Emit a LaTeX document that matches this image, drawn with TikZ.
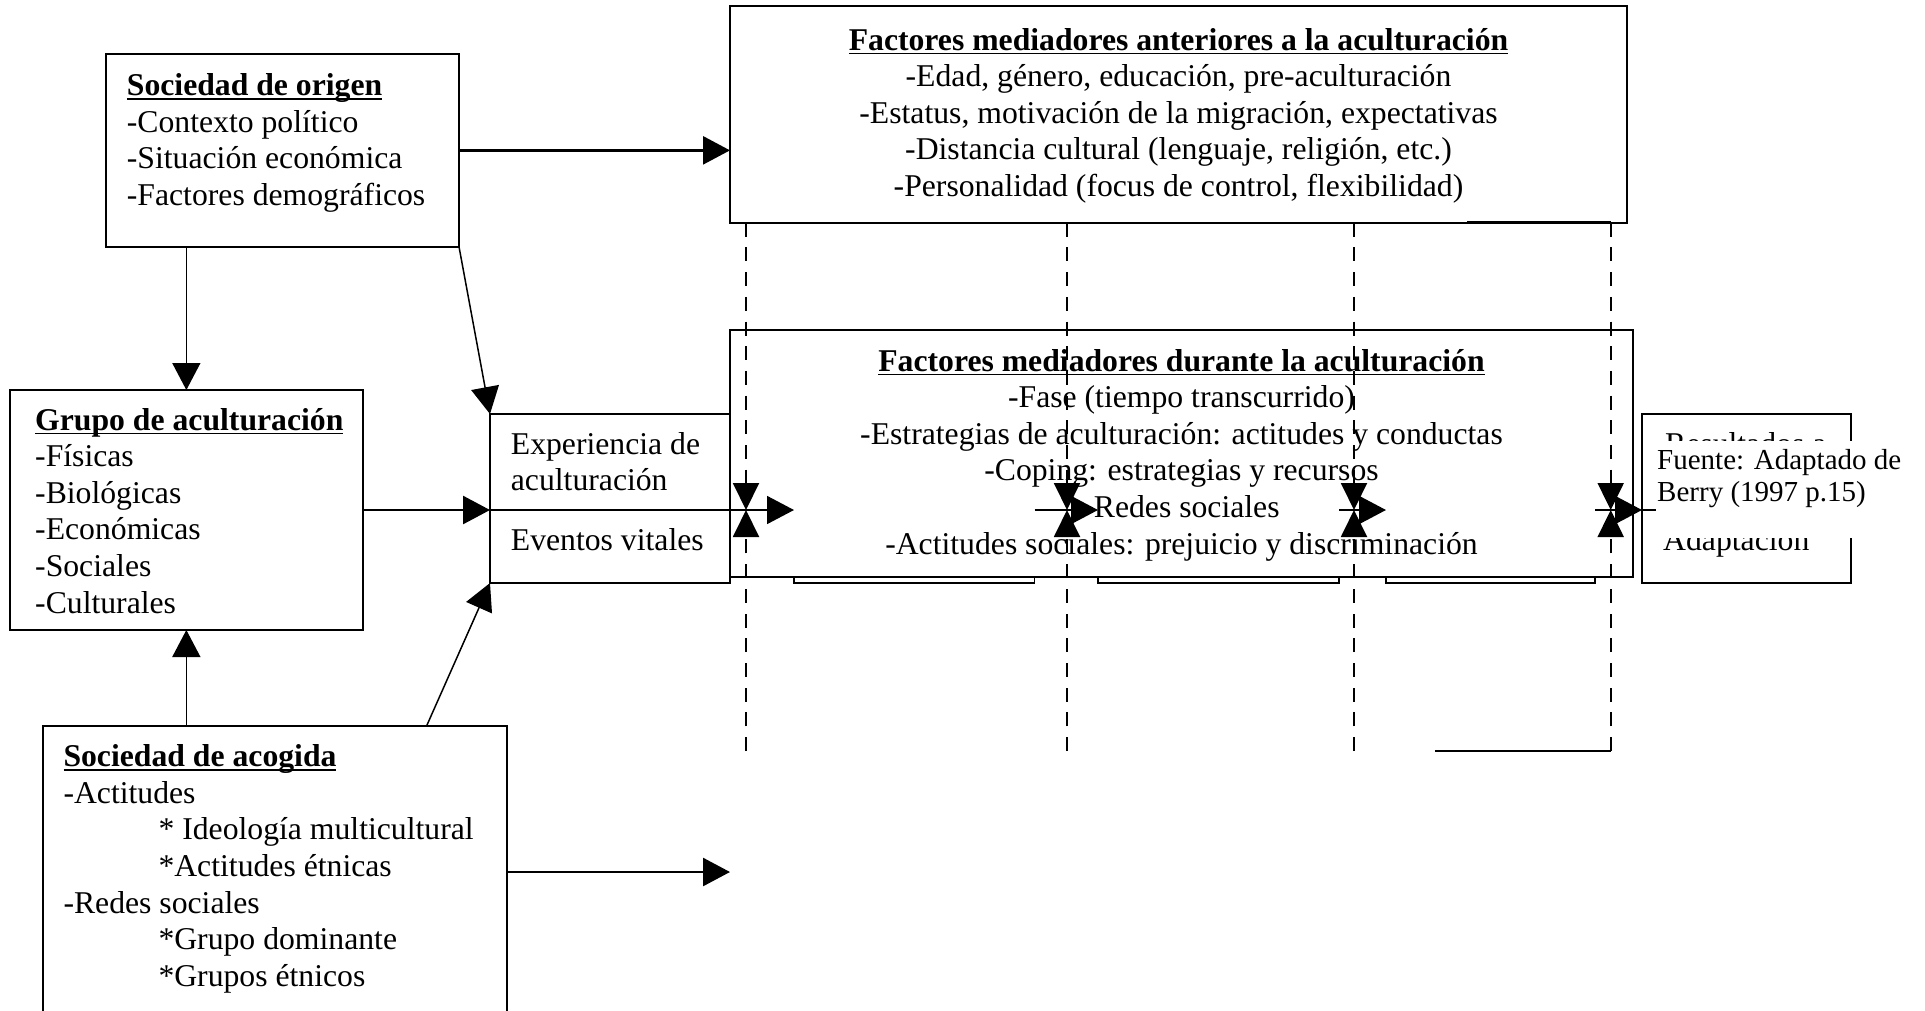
\documentclass[tikz,border=0pt]{standalone}
\usepackage{fontspec}
\setmainfont{Liberation Serif}
\usetikzlibrary{arrows.meta,calc}
\newcommand\mainfs{\fontsize{31.7pt}{36.6pt}\selectfont}
\newcommand\srcfs{\fontsize{29pt}{32.4pt}\selectfont}
\newcommand\ultitle[1]{\leavevmode\setbox0\hbox{\bfseries #1}\rlap{\rule[-4.3pt]{\wd0}{1.6pt}}\box0}
\begin{document}
\begin{tikzpicture}[x=1pt,y=-1pt,
  box/.style={draw, line width=1.7pt, fill=white, inner sep=0pt, outer sep=0pt},
  txt/.style={inner sep=0pt, anchor=base west, font=\mainfs},
  ctxt/.style={inner sep=0pt, anchor=base, font=\mainfs},
  headtri/.style={-{Triangle[length=27pt,width=28pt]}},
  thickarr/.style={headtri, line width=2.7pt},
  thinarr/.style={headtri, line width=1.5pt},
  dasharr/.style={-{Triangle[length=27pt,width=26pt]}, line width=2pt, dash pattern=on 14pt off 10.7pt}]
\useasboundingbox (0,0) rectangle (1925,1010);
\clip (0,0) rectangle (1925,1010);
% boxes
\node[box, minimum width=353.3pt, minimum height=192.7pt] (origen) at (282.35,150.35) {};
\node[box, minimum width=352.7pt, minimum height=240pt] (grupo) at (186.35,510) {};
\node[box, minimum width=464pt, minimum height=314.3pt] (acogida) at (274.7,882.85) {};
\node[box, minimum width=240pt, minimum height=169pt] (exper) at (610,498.5) {};
\node[box, minimum width=897pt, minimum height=216.7pt] (anter) at (1178.5,114.35) {};
\node[box, minimum width=240.5pt, minimum height=169pt] (boxa) at (914.25,498.5) {};
\node[box, minimum width=241pt, minimum height=169pt] (boxb) at (1218.5,498.5) {};
\node[box, minimum width=209pt, minimum height=169pt] (boxc) at (1490.5,498.5) {};
\node[box, minimum width=209pt, minimum height=169pt] (result) at (1746.5,498.5) {};
\node[box, minimum width=903pt, minimum height=247pt] (durante) at (1181.5,453.5) {};
% texts
\node[txt] (torigen) at (126.7,95.7) {\parbox[t]{330pt}{\raggedright\ultitle{Sociedad de origen}\\-Contexto político\\-Situación económica\\-Factores demográficos}};
\node[txt] (tgrupo) at (35,430) {\parbox[t]{330pt}{\raggedright\ultitle{Grupo de aculturación}\\-Físicas\\-Biológicas\\-Económicas\\-Sociales\\-Culturales}};
\node[txt] (tacogida) at (63.3,766.7) {\parbox[t]{440pt}{\raggedright\ultitle{Sociedad de acogida}\\-Actitudes\\\hspace*{95pt}* Ideología multicultural\\\hspace*{95pt}*Actitudes étnicas\\-Redes sociales\\\hspace*{95pt}*Grupo dominante\\\hspace*{95pt}*Grupos étnicos}};
\node[txt] (texper) at (510.7,454) {\parbox[t]{220pt}{\raggedright Experiencia de\\aculturación}};
\node[txt] (teventos) at (510.7,550) {Eventos vitales};
\node[ctxt] (tanter) at (1178.5,50) {\parbox[t]{890pt}{\centering\ultitle{Factores mediadores anteriores a la aculturación}\\-Edad, género, educación, pre-aculturación\\-Estatus, motivación de la migración, expectativas\\-Distancia cultural (lenguaje, religión, etc.)\\-Personalidad (focus de control, flexibilidad)}};
\node[ctxt] (tdurante) at (1181.5,371) {\parbox[t]{896pt}{\centering\ultitle{Factores mediadores durante la aculturación}\\-Fase (tiempo transcurrido)\\-Estrategias de aculturación: actitudes y conductas\\-Coping: estrategias y recursos\\-Redes sociales\\-Actitudes sociales: prejuicio y discriminación}};
\node[txt] (tresult) at (1665,454) {Resultados a};
\node[txt] (tadapt) at (1663,550) {Adaptación};
% source note with white background
\node[fill=white, inner sep=0pt, outer sep=0pt, minimum width=270pt, minimum height=97pt, anchor=north west] (fuentebg) at (1655,441) {};
\node[txt, font=\srcfs] (fuente) at (1657,469.3) {\parbox[t]{265pt}{\raggedright Fuente: Adaptado de\\Berry (1997 p.15)}};
% helper coordinates
\coordinate (divy) at (0,510);
\coordinate (boty) at (0,751);
\coordinate (accend) at (730,872);
\coordinate (d1) at (746,510);
\coordinate (d2) at (1067,510);
\coordinate (d3) at (1354,510);
\coordinate (d4) at (1610.7,510);
% connectors
\draw[thickarr] (origen.east) -- (origen.east -| anter.west);
\draw[thinarr] (grupo.north |- origen.south) -- (grupo.north);
\draw[thinarr] (origen.south east) -- (exper.north west);
\draw[thickarr] (grupo.east) -- (grupo.east -| exper.west);
\draw[thinarr] (grupo.south |- acogida.north) -- (grupo.south);
\draw[thinarr] ($(acogida.north west)+(384,0)$) -- (exper.south west);
\draw[thickarr] (acogida.east |- accend) -- (accend);
\draw[headtri, line width=1.7pt] (exper.west |- divy) -- (boxa.west |- divy);
\draw[headtri, line width=2pt] (boxa.east |- divy) -- (boxb.west |- divy);
\draw[headtri, line width=2pt] (boxb.east |- divy) -- (boxc.west |- divy);
\draw[headtri, line width=2pt] (boxc.east |- divy) -- (result.west |- divy);
\draw[line width=2pt] (result.west |- divy) -- ++(14,0);
% dashed arrows
\foreach \d in {d1,d2,d3,d4}{
  \draw[dasharr] (\d |- anter.south) -- (\d);
  \draw[dasharr] (\d |- boty) -- (\d);
}
\draw[line width=2pt] ($(d4 |- anter.south)+(0,-1)$) -- ++(-144,0);
\draw[line width=2pt] (d4 |- boty) -- ++(-175.7,0);
\end{tikzpicture}
\end{document}
